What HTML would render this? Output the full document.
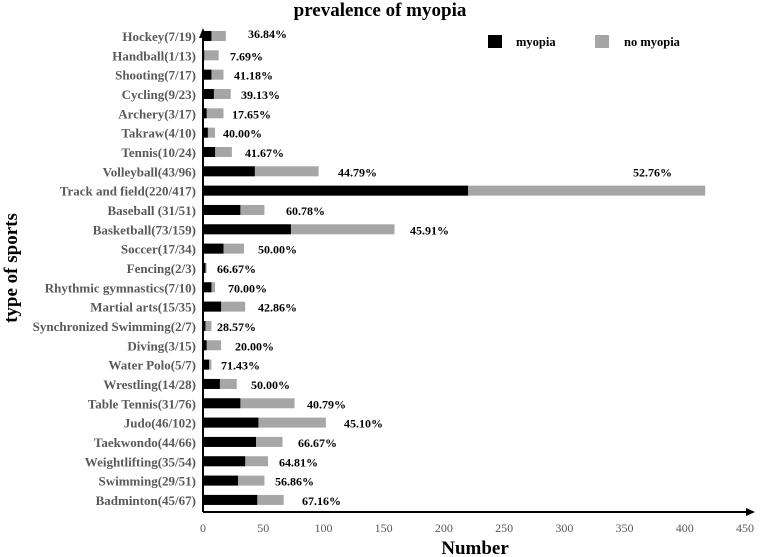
<!DOCTYPE html>
<html><head><meta charset="utf-8"><style>
body{margin:0;background:#fff}
svg{display:block;font-family:"Liberation Serif",serif;font-weight:bold}
</style></head><body>
<svg id="c" width="760" height="557"></svg>
<script>
const categories=["Hockey(7/19)","Handball(1/13)","Shooting(7/17)","Cycling(9/23)","Archery(3/17)","Takraw(4/10)","Tennis(10/24)","Volleyball(43/96)","Track and field(220/417)","Baseball (31/51)","Basketball(73/159)","Soccer(17/34)","Fencing(2/3)","Rhythmic gymnastics(7/10)","Martial arts(15/35)","Synchronized Swimming(2/7)","Diving(3/15)","Water Polo(5/7)","Wrestling(14/28)","Table Tennis(31/76)","Judo(46/102)","Taekwondo(44/66)","Weightlifting(35/54)","Swimming(29/51)","Badminton(45/67)"];
const myopia=[7,1,7,9,3,4,10,43,220,31,73,17,2,7,15,2,3,5,14,31,46,44,35,29,45];
const totals=[19,13,17,23,17,10,24,96,417,51,159,34,3,10,35,7,15,7,28,76,102,66,54,51,67];
const pctLabels=["36.84%","7.69%","41.18%","39.13%","17.65%","40.00%","41.67%","44.79%","52.76%","60.78%","45.91%","50.00%","66.67%","70.00%","42.86%","28.57%","20.00%","71.43%","50.00%","40.79%","45.10%","66.67%","64.81%","56.86%","67.16%"];
const xTicks=[0,50,100,150,200,250,300,350,400,450];
// annotation layout (pixel x of percentage labels as placed in the original)
const labelX=[248,230,234,241,232,223,245,338,633,286,410,258,217,228,258,217,235,221,251,307,344,298,279,275,302];

const NS="http://www.w3.org/2000/svg";
const svg=document.getElementById('c');
function mk(t,a,txt){const e=document.createElementNS(NS,t);for(const k in a)e.setAttribute(k,a[k]);if(txt!==undefined)e.textContent=txt;svg.appendChild(e);return e;}
const x0=203,x1=745,xMax=450;
const X=v=>x0+v*(x1-x0)/xMax;
const Y=i=>36+i*19.33;

let e=mk('text',{x:380,y:16,'text-anchor':'middle','font-size':19},'prevalence of myopia');


categories.forEach((c,i)=>{
  const y=Y(i);
  let t=mk('text',{x:196,y:y+5,'text-anchor':'end','font-size':13,fill:'#595959'},c);
  
  let g=mk('rect',{x:X(0),y:y-5,width:X(totals[i])-X(0),height:10,fill:'#a6a6a6'});
  
  let b=mk('rect',{x:X(0),y:y-5,width:X(myopia[i])-X(0),height:10,fill:'#000'});
  
  const ly=(totals[i]>300?y-14:(i===0?y+2:y+5));
  let p=mk('text',{x:labelX[i],y:ly,'font-size':12,fill:'#000'},pctLabels[i]);
  
});

let ya=mk('line',{x1:203,y1:512,x2:203,y2:34,stroke:'#000','stroke-width':2});

let yh=mk('polygon',{points:'199,38 207,38 203,28',fill:'#000'});

let xa=mk('line',{x1:203,y1:512,x2:748,y2:512,stroke:'#000','stroke-width':2});

let xh=mk('polygon',{points:'746,508 746,516 755,512',fill:'#000'});


xTicks.forEach(v=>{
  let t=mk('text',{x:X(v),y:532,'text-anchor':'middle','font-size':12,'font-weight':'normal',fill:'#595959'},String(v));
  
});

let xt=mk('text',{x:475,y:554,'text-anchor':'middle','font-size':19},'Number');

let yt=mk('text',{x:0,y:0,'text-anchor':'middle','font-size':19,transform:'translate(17,268) rotate(-90)'},'type of sports');


let l1=mk('rect',{x:488,y:35,width:14,height:13,fill:'#000'});

let l1t=mk('text',{x:516,y:46,'font-size':12.5},'myopia');

let l2=mk('rect',{x:595,y:35,width:14,height:13,fill:'#a6a6a6'});

let l2t=mk('text',{x:624,y:46,'font-size':12.5},'no myopia');

</script>
</body></html>
